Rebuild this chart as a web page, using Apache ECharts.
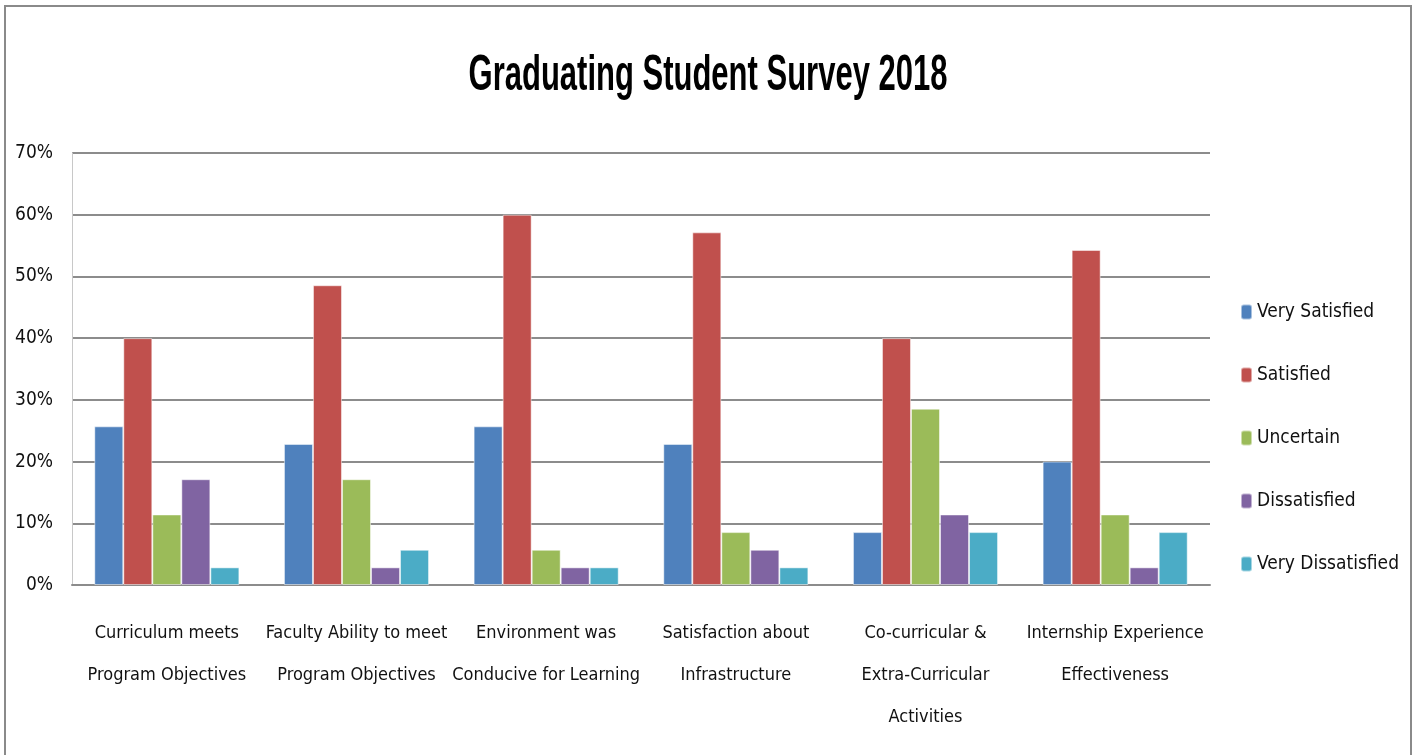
<!DOCTYPE html>
<html>
<head>
<meta charset="utf-8">
<script src="https://cdn.jsdelivr.net/npm/echarts@6/dist/echarts.min.js"></script>
<style>
  html, body { margin: 0; padding: 0; background: #fff; }
  #chart { width: 1419px; height: 755px; }
</style>
</head>
<body>
<div id="chart"></div>
<script>
// Survey categories (two-line labels as shown under each group)
const categories = [
  'Curriculum meets\nProgram Objectives',
  'Faculty Ability to meet\nProgram Objectives',
  'Environment was\nConducive for Learning',
  'Satisfaction about\nInfrastructure',
  'Co-curricular &\nExtra-Curricular\nActivities',
  'Internship Experience\nEffectiveness'
];

// Share of respondents (%) per response level
const verySatisfied    = [25.71, 22.86, 25.71, 22.86,  8.57, 20.00];
const satisfied        = [40.00, 48.57, 60.00, 57.14, 40.00, 54.29];
const uncertain        = [11.43, 17.14,  5.71,  8.57, 28.57, 11.43];
const dissatisfied     = [17.14,  2.86,  2.86,  5.71, 11.43,  2.86];
const veryDissatisfied = [ 2.86,  5.71,  2.86,  2.86,  8.57,  8.57];

const seriesNames = ['Very Satisfied', 'Satisfied', 'Uncertain', 'Dissatisfied', 'Very Dissatisfied'];
const seriesValues = [verySatisfied, satisfied, uncertain, dissatisfied, veryDissatisfied];
const colors = ['#4F81BD', '#C0504D', '#9BBB59', '#8064A2', '#4BACC6'];

const yTicks = [0, 10, 20, 30, 40, 50, 60, 70];

const narrow = '"Liberation Sans Narrow", "DejaVu Sans Condensed", "Arial Narrow", sans-serif';

const chart = echarts.init(document.getElementById('chart'), null, { renderer: 'canvas' });

chart.setOption({
  animation: false,
  backgroundColor: '#ffffff',
  color: colors,
  graphic: [
    {
      type: 'rect',
      shape: { x: 5, y: 6, width: 1406, height: 760 },
      style: { fill: 'none', stroke: '#8a8a8a', lineWidth: 2 },
      silent: true
    },
    {
      type: 'text',
      x: 708, y: 76,
      scaleX: 0.62, scaleY: 1,
      style: {
        text: 'Graduating Student Survey 2018',
        fontFamily: '"Liberation Sans", Arial, sans-serif',
        fontWeight: 'bold',
        fontSize: 50,
        fill: '#000',
        align: 'center',
        verticalAlign: 'middle'
      }
    }
  ],
  legend: {
    orient: 'vertical',
    left: 1235,
    top: 295,
    itemGap: 39,
    itemWidth: 11,
    itemHeight: 15,
    data: seriesNames,
    textStyle: { fontFamily: narrow, fontSize: 19, lineHeight: 24, color: '#111' }
  },
  grid: { left: 72, right: 209, top: 153, bottom: 170, containLabel: false },
  xAxis: {
    type: 'category',
    data: categories,
    axisLine: { show: true, lineStyle: { color: '#8c8c8c', width: 2 } },
    axisTick: { show: false },
    axisLabel: {
      interval: 0,
      margin: 27,
      fontFamily: narrow,
      fontSize: 18,
      lineHeight: 42,
      color: '#111',
      align: 'center',
      verticalAlign: 'top'
    }
  },
  yAxis: {
    type: 'value',
    min: yTicks[0],
    max: yTicks[yTicks.length - 1],
    interval: 10,
    axisLine: { show: true, lineStyle: { color: '#c8c8c8', width: 1 } },
    axisTick: { show: false },
    splitLine: { lineStyle: { color: '#8c8c8c', width: 2 } },
    axisLabel: {
      margin: 19,
      fontFamily: narrow,
      fontSize: 19,
      color: '#111',
      formatter: v => v + '%'
    }
  },
  series: seriesNames.map((name, i) => ({
    name,
    type: 'bar',
    data: seriesValues[i],
    barGap: '0%',
    barCategoryGap: '23.5%',
    itemStyle: { color: colors[i], borderColor: 'rgba(255,255,255,0.5)', borderWidth: 1 }
  }))
});
</script>
</body>
</html>
